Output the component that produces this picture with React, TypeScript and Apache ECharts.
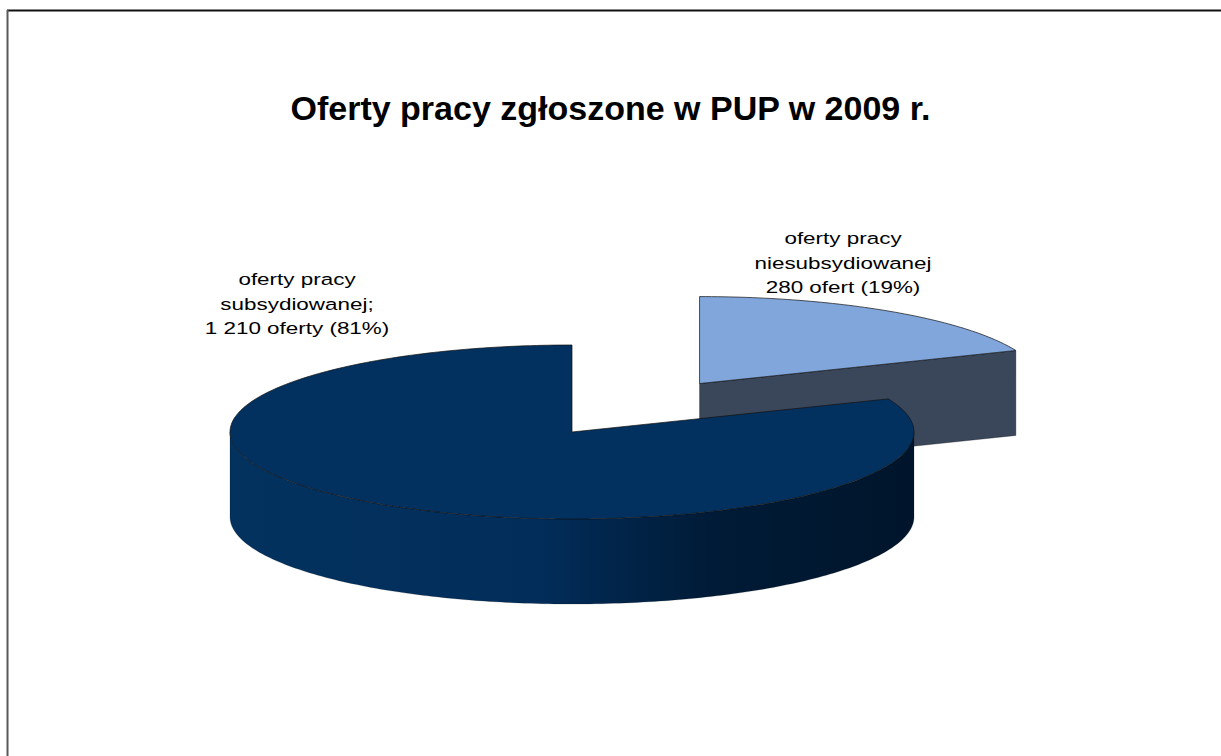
import React, { useEffect, useRef } from "react";
import * as echarts from "echarts";

// ---- data ----
const categories = ["oferty pracy subsydiowanej", "oferty pracy niesubsydiowanej"];
const values = [1210, 280];
const labelHeads = [
  ["oferty pracy", "subsydiowanej;"],
  ["oferty pracy", "niesubsydiowanej"],
];
const unitWords = ["oferty", "ofert"];
const explode = [0, 0.67];
const titleText = "Oferty pracy zgłoszone w PUP w 2009 r.";

// ---- styles / layout ----
const topColors = ["#02315f", "#80a6db"];
const cutColors = ["#012a55", "#3a4659"];
const FONT = "'Liberation Sans', Arial, Helvetica, sans-serif";
const labelPos = [
  [297 / 1221, 304 / 756],
  [843 / 1221, 263 / 756],
];

const total = values.reduce((a, b) => a + b, 0);
const START = 90;

function fmt(v: number) {
  return String(v).replace(/\B(?=(\d{3})+(?!\d))/g, " ");
}

function angles(i: number) {
  let acc = 0;
  for (let j = 0; j < i; j++) acc += values[j];
  const a1 = START + (acc / total) * 360;
  const a2 = a1 + (values[i] / total) * 360;
  return [a1, a2];
}

function renderItem(params: any, api: any) {
  const i = params.dataIndex;
  const W = api.getWidth();
  const H = api.getHeight();
  const rx = W * (342 / 1221);
  const ry = H * (87 / 756);
  const depth = H * (85 / 756);
  const [a1, a2] = angles(i);
  const mid = ((a1 + a2) / 2) * (Math.PI / 180);
  const cx = W * (572 / 1221) + explode[i] * rx * Math.cos(mid);
  const cy = H * (432 / 756) - explode[i] * ry * Math.sin(mid);
  const rim = (deg: number, dy = 0) => {
    const r = (deg * Math.PI) / 180;
    return [cx + rx * Math.cos(r), cy - ry * Math.sin(r) + dy];
  };
  const arc = (s: number, e: number, dy = 0) => {
    const pts: number[][] = [];
    const n = Math.max(2, Math.ceil(Math.abs(e - s) / 1));
    for (let k = 0; k <= n; k++) pts.push(rim(s + ((e - s) * k) / n, dy));
    return pts;
  };
  const base = i === 0 ? 10 : 1;
  const children: any[] = [];

  // cut faces
  const faces = [
    { a: a1, normal: a1 - 90 },
    { a: a2, normal: a2 + 90 },
  ];
  faces.forEach((f) => {
    const s = Math.sin((f.normal * Math.PI) / 180);
    if (s < -0.05) {
      const p = rim(f.a);
      children.push({
        type: "polygon",
        z2: base,
        shape: { points: [[cx, cy], p, [p[0], p[1] + depth], [cx, cy + depth]] },
        style: { fill: cutColors[i], stroke: "rgba(0,0,0,0.5)", lineWidth: 0.6 },
      });
    }
  });

  // outer wall (front half only)
  for (const off of [0, 360]) {
    const s1 = Math.max(a1, 180 + off);
    const s2 = Math.min(a2, 360 + off);
    if (s2 > s1) {
      const top = arc(s1, s2);
      const bot = arc(s1, s2, depth).reverse();
      children.push({
        type: "polygon",
        z2: base + 1,
        shape: { points: top.concat(bot) },
        style: {
          fill: new echarts.graphic.LinearGradient(0, 0, 1, 0, [
            { offset: 0, color: "#03325f" },
            { offset: 0.45, color: "#022d5a" },
            { offset: 0.7, color: "#001b37" },
            { offset: 1, color: "#00152b" },
          ]),
          stroke: "rgba(0,0,0,0.35)",
          lineWidth: 0.5,
        },
      });
    }
  }

  // top face
  children.push({
    type: "polygon",
    z2: base + 2,
    shape: { points: [[cx, cy]].concat(arc(a1, a2)) },
    style: { fill: topColors[i], stroke: "#111", lineWidth: 0.7 },
  });

  // label
  const pct = Math.round((values[i] / total) * 100);
  const text = labelHeads[i].join("\n") + "\n" + fmt(values[i]) + " " + unitWords[i] + " (" + pct + "%)";
  children.push({
    type: "text",
    z2: 50,
    x: W * labelPos[i][0],
    y: H * labelPos[i][1],
    scaleX: 1.36,
    style: {
      text,
      fill: "#000",
      font: "16.5px " + FONT,
      align: "center",
      verticalAlign: "middle",
      lineHeight: 24.5,
    },
  });

  return { type: "group", children };
}

export default function App() {
  const ref = useRef<HTMLDivElement>(null);
  useEffect(() => {
    document.body.style.margin = "0";
    const chart = echarts.init(ref.current!, undefined, { renderer: "svg" });
    chart.setOption({
      animation: false,
      backgroundColor: "#ffffff",
      title: {
        text: titleText,
        left: "center",
        top: 86,
        textStyle: { fontSize: 34, fontWeight: "bold", fontFamily: FONT, color: "#000" },
      },
      graphic: [
        { type: "line", shape: { x1: 7, y1: 10.5, x2: 1221, y2: 10.5 }, style: { stroke: "#111", lineWidth: 2 } },
        { type: "line", shape: { x1: 7.5, y1: 10, x2: 7.5, y2: 756 }, style: { stroke: "#5a5a5a", lineWidth: 2 } },
      ],
      series: [
        {
          type: "custom",
          coordinateSystem: "none",
          renderItem,
          data: values.map((v, k) => ({ name: categories[k], value: v })),
        },
      ],
    });
    return () => chart.dispose();
  }, []);
  return <div ref={ref} style={{ width: 1221, height: 756 }} />;
}
